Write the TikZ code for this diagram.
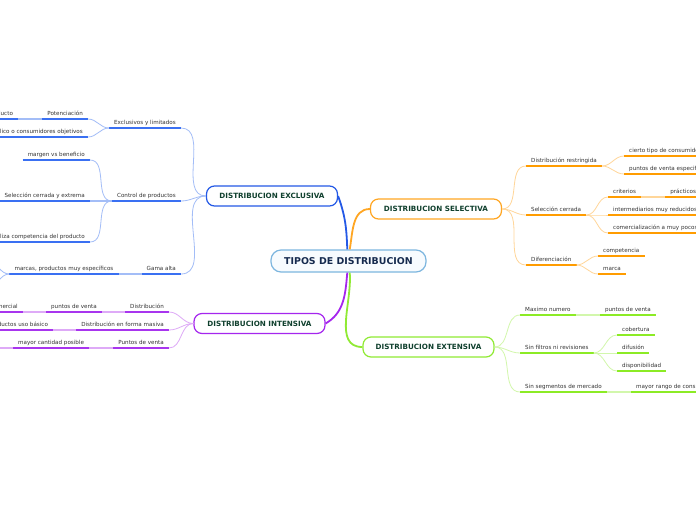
\documentclass[tikz,border=0pt]{standalone}
\usepackage{fontspec}
\setmainfont{DejaVu Sans}
\usetikzlibrary{positioning}

\definecolor{blueD}{HTML}{3A70F2}
\definecolor{blueL}{HTML}{A3BDF7}
\definecolor{blueT}{HTML}{2459E6}
\definecolor{orangeD}{HTML}{FF9C00}
\definecolor{orangeL}{HTML}{FFD699}
\definecolor{orangeT}{HTML}{FFA623}
\definecolor{purpleD}{HTML}{A835EE}
\definecolor{purpleL}{HTML}{DEAAF7}
\definecolor{purpleT}{HTML}{A526EE}
\definecolor{greenD}{HTML}{8CEB25}
\definecolor{greenL}{HTML}{D2F7AC}
\definecolor{greenT}{HTML}{90EA34}
\definecolor{cenline}{HTML}{7DB6DF}
\definecolor{cenfill}{HTML}{F7FBFE}
\definecolor{centext}{HTML}{152A4E}
\definecolor{topictext}{HTML}{10402E}
\definecolor{subtext}{HTML}{333333}

\begin{document}
\begin{tikzpicture}[x=1pt, y=1pt]
	\tikzstyle{sub} = [inner xsep=5pt, inner ysep=2pt, text height=4.2pt, text depth=1.4pt, font=\fontsize{5.6}{6.5}\selectfont, text=subtext]
	\tikzstyle{topic} = [rectangle, rounded corners=8pt, minimum width=131pt, minimum height=20pt, line width=1.2pt, fill=white, text=topictext, font=\bfseries\fontsize{7.2}{8.5}\selectfont]
	\tikzstyle{bsub} = [sub, append after command={(\tikzlastnode.south west) edge[draw=blueD, line width=1.6pt] (\tikzlastnode.south east)}]
	\tikzstyle{osub} = [sub, append after command={(\tikzlastnode.south west) edge[draw=orangeD, line width=1.6pt] (\tikzlastnode.south east)}]
	\tikzstyle{psub} = [sub, append after command={(\tikzlastnode.south west) edge[draw=purpleD, line width=1.6pt] (\tikzlastnode.south east)}]
	\tikzstyle{gsub} = [sub, append after command={(\tikzlastnode.south west) edge[draw=greenD, line width=1.6pt] (\tikzlastnode.south east)}]
	\tikzstyle{blink} = [blueL, line width=0.8pt]
	\tikzstyle{olink} = [orangeL, line width=0.8pt]
	\tikzstyle{plink} = [purpleL, line width=0.8pt]
	\tikzstyle{glink} = [greenL, line width=0.8pt]
	\tikzstyle{chain} = [line width=1.6pt]
	\tikzstyle{main} = [line width=1.8pt]

	\useasboundingbox (0,0) rectangle (696,-520);
	\fill[white] (0,0) rectangle (696,-520);
	\clip (0,0) rectangle (696,-520);

	% centre and main branches
	\node[rectangle, rounded corners=10pt, draw=cenline, line width=1.2pt, fill=cenfill, minimum width=155pt, minimum height=22pt, text=centext, font=\bfseries\fontsize{9.4}{11}\selectfont](tipos) at (348.5,-261){TIPOS DE DISTRIBUCION};

	\node[topic, draw=blueT](excl) at (272,-196){DISTRIBUCION EXCLUSIVA};
	\node[topic, draw=orangeT](sel) at (436,-209){DISTRIBUCION SELECTIVA};
	\node[topic, draw=purpleT](inten) at (259.5,-323.5){DISTRIBUCION INTENSIVA};
	\node[topic, draw=greenT](ext) at (428.5,-347){DISTRIBUCION EXTENSIVA};

	\draw[main, blueT] (tipos.96) to[out=92, in=-70] (excl.east);
	\draw[main, orangeT] (tipos.84) to[out=80, in=180] (sel.west);
	\draw[main, purpleT] (tipos.264) to[out=-95, in=30] (inten.east);
	\draw[main, greenT] (tipos.276) to[out=-85, in=180] (ext.west);

	% exclusiva
	\node[bsub, anchor=south east](exlim) at (181,-128){Exclusivos y limitados};
	\node[bsub, anchor=south east](poten) at (88,-119){Potenciación};
	\node[bsub, left=24pt of poten](produ){producto};
	\node[bsub, anchor=south east](publi) at (88,-137){Público o consumidores objetivos};
	\draw[blink] (excl.west) to[out=180, in=0] (exlim.south east);
	\draw[blink] (exlim.south west) to[out=180, in=0] (poten.south east);
	\draw[blink] (exlim.south west) to[out=180, in=0] (publi.south east);
	\draw[blink, chain] (poten.south west) -- (produ.south east);

	\node[bsub, anchor=south east](contr) at (181,-201){Control de productos};
	\node[bsub, anchor=south east](margen) at (90,-160){margen vs beneficio};
	\node[bsub, anchor=south east](selex) at (90,-201){Selección cerrada y extrema};
	\node[bsub, anchor=south east](anali) at (90,-242){Analiza competencia del producto};
	\draw[blink] (excl.west) to[out=180, in=0] (contr.south east);
	\draw[blink] (contr.south west) to[out=180, in=0] (margen.south east);
	\draw[blink, chain] (contr.south west) -- (selex.south east);
	\draw[blink] (contr.south west) to[out=180, in=0] (anali.south east);

	\node[bsub, anchor=south east](gama) at (181,-274){Gama alta};
	\node[bsub, left=23pt of gama](marcas){marcas, productos muy específicos};
	\coordinate (marcas1) at (-12,-262);
	\coordinate (marcas2) at (-12,-287);
	\draw[blink] (excl.west) to[out=180, in=0] (gama.south east);
	\draw[blink, chain] (gama.south west) -- (marcas.south east);
	\draw[blink] (marcas.south west) to[out=180, in=0] (marcas1);
	\draw[blink] (marcas.south west) to[out=180, in=0] (marcas2);

	% intensiva
	\node[psub, anchor=south east](distr) at (169,-312){Distribución};
	\node[psub, left=23pt of distr](pventa){puntos de venta};
	\node[psub, left=23pt of pventa](comer){comercial};
	\node[psub, anchor=south east](masiva) at (169,-330){Distribución en forma masiva};
	\node[psub, left=23pt of masiva](basico){Productos uso básico};
	\node[psub, anchor=south east](pvent2) at (169,-348){Puntos de venta};
	\node[psub, left=24pt of pvent2](mayor){mayor cantidad posible};
	\coordinate (mayor1) at (-30,-348);
	\draw[plink] (inten.west) to[out=180, in=0] (distr.south east);
	\draw[plink] (inten.west) to[out=180, in=0] (masiva.south east);
	\draw[plink] (inten.west) to[out=180, in=0] (pvent2.south east);
	\draw[plink, chain] (distr.south west) -- (pventa.south east);
	\draw[plink, chain] (pventa.south west) -- (comer.south east);
	\draw[plink, chain] (masiva.south west) -- (basico.south east);
	\draw[plink, chain] (pvent2.south west) -- (mayor.south east);
	\draw[plink, chain] (mayor.south west) -- (mayor1);

	% selectiva
	\node[osub, anchor=south west](restr) at (526,-166){Distribución restringida};
	\node[osub, anchor=south west](cierto) at (624,-156){cierto tipo de consumidores};
	\node[osub, anchor=south west](pvesp) at (624,-174){puntos de venta especificos};
	\draw[olink] (sel.east) to[out=0, in=180] (restr.south west);
	\draw[olink] (restr.south east) to[out=0, in=180] (cierto.south west);
	\draw[olink] (restr.south east) to[out=0, in=180] (pvesp.south west);

	\node[osub, anchor=south west](selce) at (526,-215){Selección cerrada};
	\node[osub, anchor=south west](crit) at (608,-197){criterios};
	\node[osub, right=24pt of crit](pract){prácticos};
	\node[osub, anchor=south west](inter) at (608,-215){intermediarios muy reducidos};
	\node[osub, anchor=south west](comerc) at (608,-233){comercialización a muy pocos};
	\draw[olink] (sel.east) to[out=0, in=180] (selce.south west);
	\draw[olink] (selce.south east) to[out=0, in=180] (crit.south west);
	\draw[olink, chain] (crit.south east) -- (pract.south west);
	\draw[olink] (selce.south east) to[out=0, in=180] (inter.south west);
	\draw[olink] (selce.south east) to[out=0, in=180] (comerc.south west);

	\node[osub, anchor=south west](difer) at (526,-265){Diferenciación};
	\node[osub, anchor=south west](compe) at (598,-256){competencia};
	\node[osub, anchor=south west](marca) at (598,-274){marca};
	\draw[olink] (sel.east) to[out=0, in=180] (difer.south west);
	\draw[olink] (difer.south east) to[out=0, in=180] (compe.south west);
	\draw[olink] (difer.south east) to[out=0, in=180] (marca.south west);

	% extensiva
	\node[gsub, anchor=south west](maxim) at (520,-315){Maximo numero};
	\node[gsub, right=24pt of maxim](pvext){puntos de venta};
	\draw[glink] (ext.east) to[out=0, in=180] (maxim.south west);
	\draw[glink, chain] (maxim.south east) -- (pvext.south west);

	\node[gsub, anchor=south west](filtr) at (520,-353){Sin filtros ni revisiones};
	\node[gsub, anchor=south west](cober) at (617,-335){cobertura};
	\node[gsub, anchor=south west](difus) at (617,-353){difusión};
	\node[gsub, anchor=south west](dispo) at (617,-371){disponibilidad};
	\draw[glink] (ext.east) to[out=0, in=180] (filtr.south west);
	\draw[glink] (filtr.south east) to[out=0, in=180] (cober.south west);
	\draw[glink] (filtr.south east) -- (difus.south west);
	\draw[glink] (filtr.south east) to[out=0, in=180] (dispo.south west);

	\node[gsub, anchor=south west](segme) at (520,-392){Sin segmentos de mercado};
	\node[gsub, right=24pt of segme](rango){mayor rango de consumo};
	\draw[glink] (ext.east) to[out=0, in=180] (segme.south west);
	\draw[glink, chain] (segme.south east) -- (rango.south west);

\end{tikzpicture}
\end{document}
